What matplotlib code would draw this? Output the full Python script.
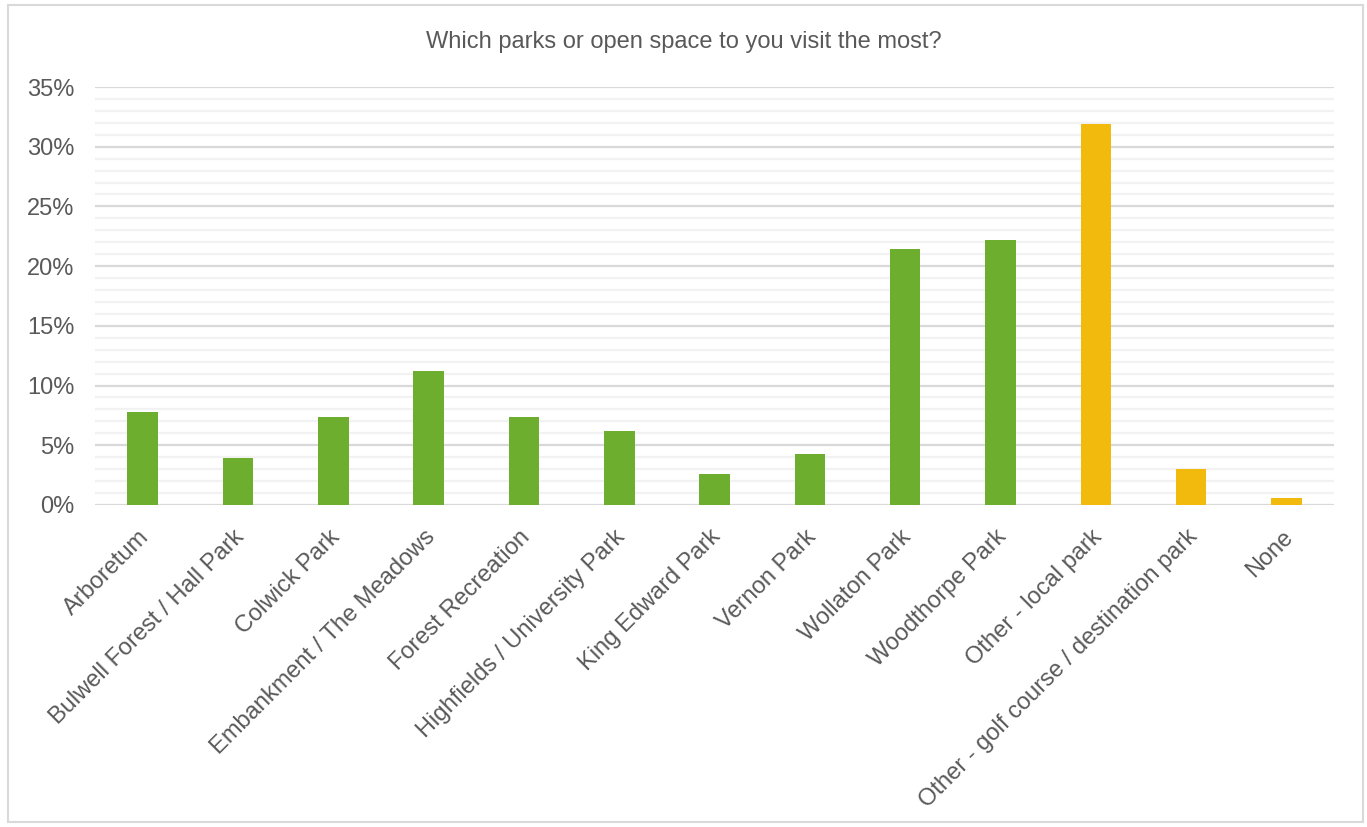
import matplotlib.pyplot as plt
from matplotlib.patches import Rectangle
from matplotlib.ticker import MultipleLocator, FuncFormatter
from matplotlib.transforms import ScaledTranslation

plt.rcParams['font.family'] = ['Liberation Sans', 'DejaVu Sans']

parks = ["Arboretum", "Bulwell Forest / Hall Park", "Colwick Park",
         "Embankment / The Meadows", "Forest Recreation",
         "Highfields / University Park", "King Edward Park", "Vernon Park",
         "Wollaton Park", "Woodthorpe Park", "Other - local park",
         "Other - golf course / destination park", "None"]
share = [7.8, 3.9, 7.4, 11.2, 7.4, 6.2, 2.6, 4.3, 21.4, 22.2, 31.9, 3.0, 0.6]
group = ["park"] * 10 + ["other"] * 3

colours = {"park": "#6DAE2E", "other": "#F1BA0C"}
text_col = "#595959"

fig = plt.figure(figsize=(13.67, 8.27), dpi=100)
ax = fig.add_axes([0.0695, 0.3894, 0.9065, 0.5054])

x = range(len(parks))
ax.bar(x, share, width=0.32, color=[colours[g] for g in group], zorder=3)

ax.set_ylim(0, 35)
ax.set_xlim(-0.5, len(parks) - 0.5)
ax.yaxis.set_major_locator(MultipleLocator(5))
ax.yaxis.set_minor_locator(MultipleLocator(1))
ax.yaxis.set_major_formatter(FuncFormatter(lambda v, p: f"{v:.0f}%"))
ax.grid(axis="y", which="major", color="#D9D9D9", linewidth=1.6, zorder=0)
ax.grid(axis="y", which="minor", color="#F2F2F2", linewidth=1.6, zorder=0)
for s in ax.spines.values():
    s.set_visible(False)
ax.tick_params(axis="both", which="both", length=0, colors=text_col, labelsize=17)
ax.tick_params(axis="y", pad=15)
ax.set_xticks(list(x))
ax.set_xticklabels(parks, rotation=45, ha="right", rotation_mode="anchor")
ax.tick_params(axis="x", pad=15)
shift = ScaledTranslation(-5 / 100, 0, fig.dpi_scale_trans)
for lab in ax.get_xticklabels():
    lab.set_transform(lab.get_transform() + shift)

fig.text(0.5, 0.949, "Which parks or open space to you visit the most?",
         ha="center", va="center", fontsize=17, color=text_col)

fig.patches.append(Rectangle((0.006, 0.006), 0.991, 0.988, transform=fig.transFigure,
                             fill=False, edgecolor="#D9D9D9", linewidth=1.5))

fig.savefig("out.png", dpi=100)
